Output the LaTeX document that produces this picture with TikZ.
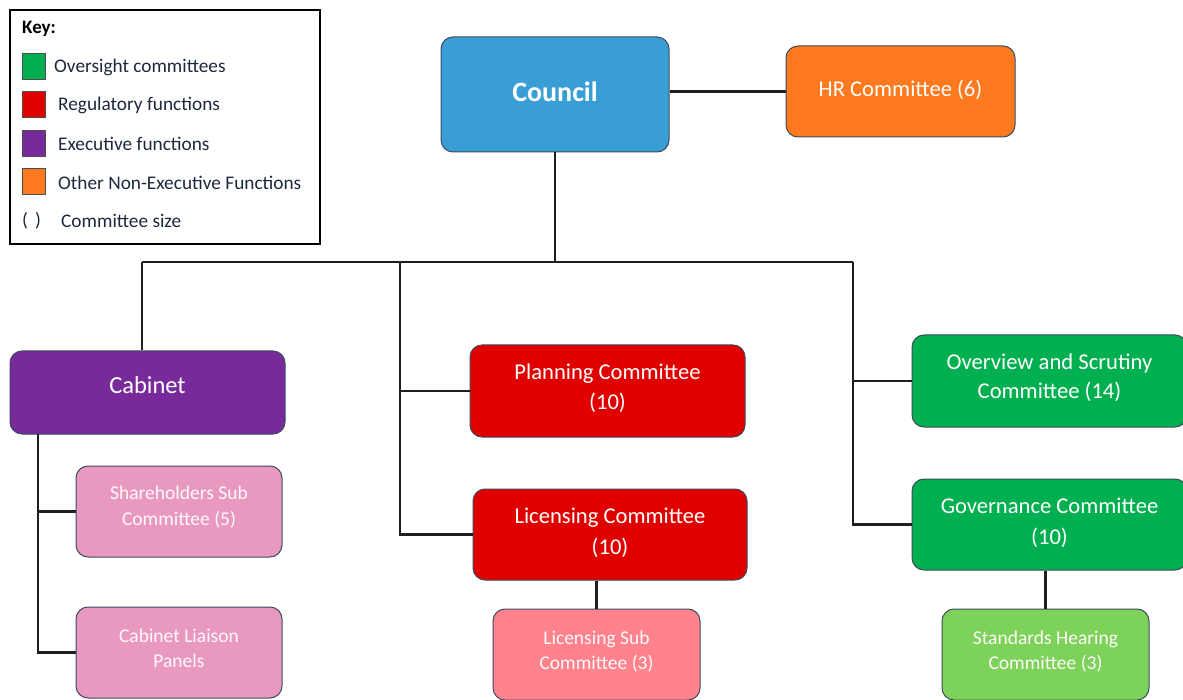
\documentclass[tikz,border=0pt]{standalone}
\usepackage{fontspec}
\setmainfont{Carlito}
\definecolor{cblue}{RGB}{58,158,214}
\definecolor{corange}{RGB}{255,122,30}
\definecolor{cpurple}{RGB}{120,42,154}
\definecolor{cred}{RGB}{224,0,0}
\definecolor{cgreen}{RGB}{0,176,80}
\definecolor{cpink}{RGB}{233,153,192}
\definecolor{csalmon}{RGB}{255,130,140}
\definecolor{clgreen}{RGB}{125,210,90}
\definecolor{cborder}{RGB}{60,75,95}
\definecolor{ctext}{RGB}{30,40,60}
\newcommand{\upby}[2]{\raisebox{#1}[\height][\depth]{#2}}
\newcommand{\twol}[3]{\begin{tabular}{@{}c@{}}#1\\[#3]#2\end{tabular}}
\begin{document}
\begin{tikzpicture}[x=1pt,y=-1pt,
  box/.style={draw=cborder,line width=1pt,rounded corners=12pt,text=white,align=center,inner sep=0pt},
  mainbox/.style={box,font=\fontsize{22.6}{30}\selectfont},
  subbox/.style={box,font=\fontsize{19.5}{26}\selectfont,text=white!92!pink},
  conn/.style={line width=2.1pt,draw=black!88},
  keysq/.style={draw=black!70,line width=1pt,minimum width=23pt,minimum height=26pt,inner sep=0pt},
  keytxt/.style={anchor=west,text=ctext,font=\fontsize{19.3}{22}\selectfont,inner sep=0pt}]
\useasboundingbox (0,0) rectangle (1183,700);
\clip (0,0) rectangle (1183,700);
% Key
\node[draw=black,line width=1.8pt,minimum width=310pt,minimum height=234pt,inner sep=0pt] (key) at (165,127) {};
\node[keytxt,font=\fontsize{19}{22}\selectfont\bfseries,text=black] (keyt) at (22,29) {Key:};
\node[keysq,fill=cgreen] (k1) at (34,66.5) {};
\node[keysq,fill=cred] (k2) at (34,104.5) {};
\node[keysq,fill=cpurple] (k3) at (34,143.5) {};
\node[keysq,fill=corange] (k4) at (34,181.5) {};
\node[keytxt] (k1t) at (54,67) {Oversight committees};
\node[keytxt] (k2t) at (58,105) {Regulatory functions};
\node[keytxt] (k3t) at (58,144) {Executive functions};
\node[keytxt] (k4t) at (58,183) {Other Non-Executive Functions};
\node[keytxt] (k5) at (22,221) {(\hspace{7pt})};
\node[keytxt] (k5t) at (61,221) {Committee size};
% Boxes
\node[mainbox,fill=cblue,minimum width=228pt,minimum height=115pt,font=\fontsize{28}{32}\selectfont\bfseries] (council) at (555,94.5) {\upby{2.5pt}{Council}};
\node[mainbox,fill=corange,minimum width=229pt,minimum height=91pt] (hr) at (900.5,91.5) {\upby{2pt}{HR Committee (6)}};
\node[mainbox,fill=cpurple,minimum width=275pt,minimum height=83pt,font=\fontsize{24.5}{30}\selectfont] (cabinet) at (147.5,392.5) {\upby{7pt}{Cabinet}};
\node[subbox,fill=cpink,minimum width=206pt,minimum height=91pt] (share) at (179,511.5) {\upby{4pt}{\twol{Shareholders Sub}{Committee (5)}{0pt}}};
\node[subbox,fill=cpink,minimum width=206pt,minimum height=91pt] (liaison) at (179,652.5) {\upby{3pt}{\twol{Cabinet Liaison}{Panels}{-1pt}}};
\node[mainbox,fill=cred,minimum width=275pt,minimum height=92pt] (planning) at (607.5,391) {\upby{2.5pt}{\twol{Planning Committee}{(10)}{1pt}}};
\node[mainbox,fill=cred,minimum width=274pt,minimum height=91pt] (licensing) at (610,534.5) {\upby{2pt}{\twol{Licensing Committee}{(10)}{1pt}}};
\node[subbox,fill=csalmon,minimum width=207pt,minimum height=91pt] (licsub) at (596.5,654.5) {\upby{3pt}{\twol{Licensing Sub}{Committee (3)}{-1pt}}};
\node[mainbox,fill=cgreen,minimum width=275pt,minimum height=92pt] (overview) at (1049.5,381) {\upby{3pt}{\twol{Overview and Scrutiny}{Committee (14)}{-2pt}}};
\node[mainbox,fill=cgreen,minimum width=275pt,minimum height=91pt] (governance) at (1049.5,524.5) {\upby{2pt}{\twol{Governance Committee}{(10)}{1pt}}};
\node[subbox,fill=clgreen,minimum width=207pt,minimum height=91pt] (standards) at (1045.5,654.5) {\upby{3pt}{\twol{Standards Hearing}{Committee (3)}{-1pt}}};
% Junctions
\coordinate (jC) at (555,262);
\coordinate (jL) at (142,262);
\coordinate (jM) at (400,262);
\coordinate (jR) at (853,262);
\coordinate (cb) at (38,434);
% Connectors
\draw[conn] (hr.west -| council.east) -- (hr.west);
\draw[conn] (council.south) -- (jC);
\draw[conn] (jL) -- (jR);
\draw[conn] (jL) -- (jL |- cabinet.north);
\draw[conn] (jM) |- (licensing.west);
\draw[conn] (jM |- planning.west) -- (planning.west);
\draw[conn] (jR) |- (governance.west);
\draw[conn] (jR |- overview.west) -- (overview.west);
\draw[conn] (cb) |- (liaison.west);
\draw[conn] (cb |- share.west) -- (share.west);
\draw[conn] (licsub.north) -- (licsub.north |- licensing.south);
\draw[conn] (standards.north) -- (standards.north |- governance.south);
\end{tikzpicture}
\end{document}
